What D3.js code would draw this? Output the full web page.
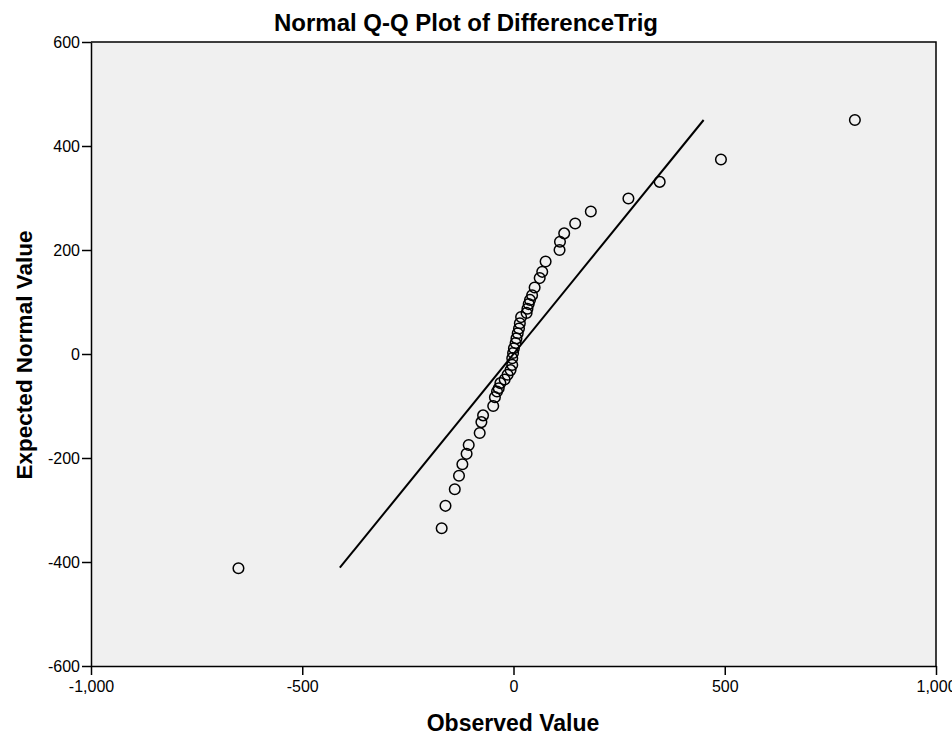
<!DOCTYPE html>
<html>
<head>
<meta charset="utf-8">
<script src="https://cdn.jsdelivr.net/npm/d3@7"></script>
<style>
  html, body { margin: 0; padding: 0; background: #fff; }
  svg { display: block; }
  text { font-family: "Liberation Sans", Arial, sans-serif; fill: #000; }
</style>
</head>
<body>
<svg id="chart" width="952" height="738"></svg>
<script>
// Observed values of DifferenceTrig
const observed = [808, 491, 346, 272, 183, 146, 120, 110, 109, 76, 68, 62, 50, 44, 39, 36, 33, 31,
  18, 15, 13, 10, 7, 5, 1, -1, -3, -3, -7, -14, -21, -31, -35, -39, -44, -48, -72, -76, -80,
  -106, -111, -121, -129, -139, -161, -170, -651];
// Expected normal values for each observation
const expected = [450, 374, 331, 299, 274, 251, 232, 216, 200, 178, 158, 146, 128, 113, 104, 96, 87, 79,
  71, 59, 49, 40, 30, 21, 11, 2, -8, -21, -31, -40, -49, -56, -66, -72, -83, -100, -118, -131, -152,
  -175, -192, -212, -234, -260, -292, -335, -412];
// Reference line y = x spans the range of expected values
const refLine = [-411, 450];

const xTicks = [-1000, -500, 0, 500, 1000];
const yTicks = [-600, -400, -200, 0, 200, 400, 600];

const svg = d3.select("#chart");
const plot = { left: 91, right: 936, top: 42, bottom: 666 };

const x = d3.scaleLinear().domain([-1000, 1000]).range([plot.left, plot.right]);
const y = d3.scaleLinear().domain([-600, 600]).range([plot.bottom, plot.top]);

// plot background
svg.append("rect")
  .attr("x", plot.left).attr("y", plot.top)
  .attr("width", plot.right - plot.left).attr("height", plot.bottom - plot.top)
  .attr("fill", "#f0f0f0");

// frame (top and right)
svg.append("path")
  .attr("d", `M${plot.left},${plot.top}H${plot.right}V${plot.bottom}`)
  .attr("fill", "none").attr("stroke", "#000").attr("stroke-width", 1.5);

// thousands separator with a plain hyphen for negatives
const fmt = d3.formatLocale({ decimal: ".", thousands: ",", grouping: [3], currency: ["", ""], minus: "-" }).format(",");

// x axis
const gx = svg.append("g").attr("transform", `translate(0,${plot.bottom})`)
  .call(d3.axisBottom(x).tickValues(xTicks).tickFormat(fmt).tickSize(9).tickSizeOuter(0));
gx.select(".domain").attr("stroke-width", 1.5);
gx.selectAll(".tick line").attr("stroke-width", 1.5);
gx.selectAll(".tick text").attr("font-size", 16).attr("dy", "0.85em")
  .style("font-family", "'Liberation Sans', Arial, sans-serif");

// y axis
const gy = svg.append("g").attr("transform", `translate(${plot.left},0)`)
  .call(d3.axisLeft(y).tickValues(yTicks).tickFormat(fmt).tickSize(9).tickSizeOuter(0));
gy.select(".domain").attr("stroke-width", 1.5);
gy.selectAll(".tick line").attr("stroke-width", 1.5);
gy.selectAll(".tick text").attr("font-size", 16).attr("x", -11)
  .style("font-family", "'Liberation Sans', Arial, sans-serif");

// reference line
svg.append("line")
  .attr("x1", x(refLine[0])).attr("y1", y(refLine[0]))
  .attr("x2", x(refLine[1])).attr("y2", y(refLine[1]))
  .attr("stroke", "#000").attr("stroke-width", 2);

// points
svg.append("g").selectAll("circle")
  .data(observed.map((v, i) => [v, expected[i]]))
  .join("circle")
  .attr("cx", d => x(d[0]))
  .attr("cy", d => y(d[1]))
  .attr("r", 5.3)
  .attr("fill", "none")
  .attr("stroke", "#000")
  .attr("stroke-width", 1.5);

// titles
svg.append("text")
  .attr("x", 466).attr("y", 31)
  .attr("text-anchor", "middle")
  .attr("font-size", 24).attr("font-weight", "bold")
  .text("Normal Q-Q Plot of DifferenceTrig");

svg.append("text")
  .attr("x", 513).attr("y", 731)
  .attr("text-anchor", "middle")
  .attr("font-size", 23).attr("font-weight", "bold")
  .text("Observed Value");

svg.append("text")
  .attr("transform", "translate(32,355) rotate(-90)")
  .attr("text-anchor", "middle")
  .attr("font-size", 22.5).attr("font-weight", "bold")
  .text("Expected Normal Value");
</script>
</body>
</html>
